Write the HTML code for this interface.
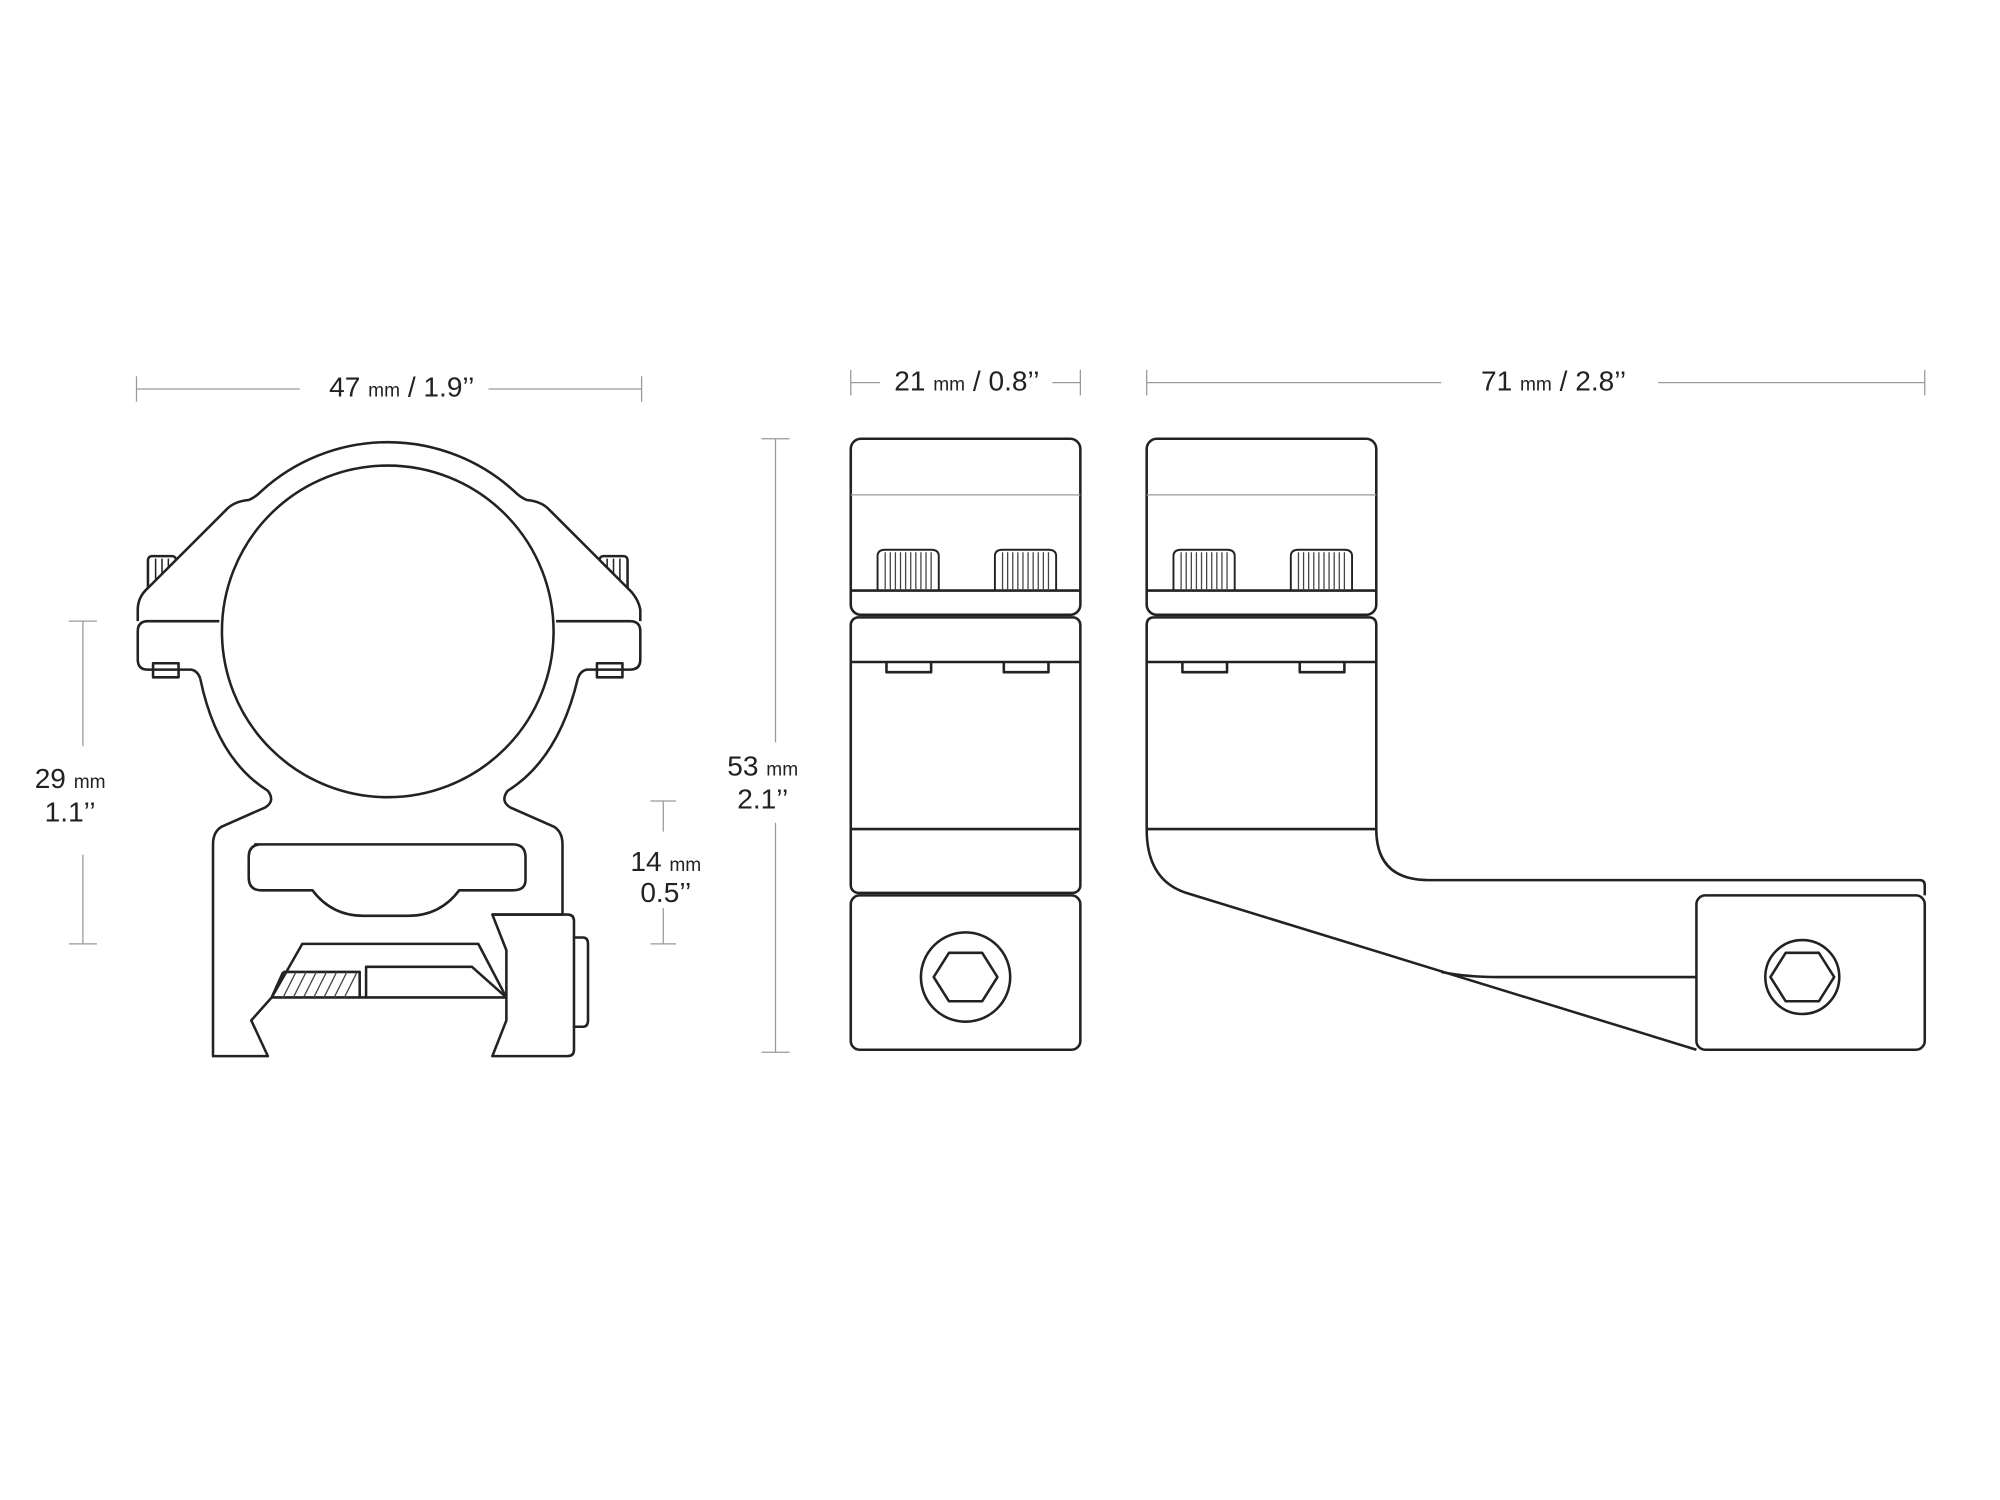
<!DOCTYPE html>
<html><head><meta charset="utf-8"><style>
html,body{margin:0;padding:0;background:#fff;}
svg{display:block;}
text{font-family:"Liberation Sans",sans-serif;fill:#222;}
</style></head><body>
<svg width="2000" height="1500" viewBox="0 0 1568 1176" xmlns="http://www.w3.org/2000/svg">
<rect width="1568" height="1176" fill="#fff"/>
<g stroke="#999" stroke-width="1" fill="none">
<line x1="107" y1="305" x2="235" y2="305"/><line x1="383" y1="305" x2="503" y2="305"/>
<line x1="107" y1="295" x2="107" y2="315"/><line x1="503" y1="295" x2="503" y2="315"/>
<line x1="667" y1="300" x2="690" y2="300"/><line x1="825" y1="300" x2="847" y2="300"/>
<line x1="667" y1="290" x2="667" y2="310"/><line x1="847" y1="290" x2="847" y2="310"/>
<line x1="899" y1="300" x2="1130" y2="300"/><line x1="1300" y1="300" x2="1509" y2="300"/>
<line x1="899" y1="290" x2="899" y2="310"/><line x1="1509" y1="290" x2="1509" y2="310"/>
<line x1="608" y1="344" x2="608" y2="582"/><line x1="608" y1="645" x2="608" y2="825"/>
<line x1="597" y1="344" x2="619" y2="344"/><line x1="597" y1="825" x2="619" y2="825"/>
<line x1="65" y1="487" x2="65" y2="585"/><line x1="65" y1="670" x2="65" y2="740"/>
<line x1="54" y1="487" x2="76" y2="487"/><line x1="54" y1="740" x2="76" y2="740"/>
<line x1="520" y1="628" x2="520" y2="652"/><line x1="520" y1="712" x2="520" y2="740"/>
<line x1="510" y1="628" x2="530" y2="628"/><line x1="510" y1="740" x2="530" y2="740"/>
<line x1="304" y1="372" x2="304" y2="455"/><line x1="304" y1="530" x2="304" y2="618"/>
<line x1="292" y1="372" x2="316" y2="372"/><line x1="292" y1="618" x2="316" y2="618"/>
</g>
<g font-size="22">
<text x="315" y="311" text-anchor="middle">47 <tspan font-size="15">mm</tspan> / 1.9’’</text>
<text x="758" y="306" text-anchor="middle">21 <tspan font-size="15">mm</tspan> / 0.8’’</text>
<text x="1218" y="306" text-anchor="middle">71 <tspan font-size="15">mm</tspan> / 2.8’’</text>
<text x="598" y="608" text-anchor="middle">53 <tspan font-size="15">mm</tspan></text>
<text x="598" y="634" text-anchor="middle">2.1’’</text>
<text x="55" y="618" text-anchor="middle">29 <tspan font-size="15">mm</tspan></text>
<text x="55" y="644" text-anchor="middle">1.1’’</text>
<text x="522" y="683" text-anchor="middle">14 <tspan font-size="15">mm</tspan></text>
<text x="522" y="707" text-anchor="middle">0.5’’</text>
<text x="304" y="487" text-anchor="middle">ø</text>
<text x="304" y="512" text-anchor="middle">30 <tspan font-size="15">mm</tspan> / 1.2’’</text>
</g>
<g stroke="#222" stroke-width="2" fill="#fff" stroke-linejoin="round">
<!-- knurl stubs behind shoulders -->
<rect x="116" y="436" width="22" height="30" rx="3"/>
<rect x="470" y="436" width="22" height="30" rx="3"/>
<rect x="120" y="520" width="20" height="11"/>
<rect x="468" y="520" width="20" height="11"/>
</g>
<g stroke="#222" stroke-width="1.2"><path d="M122,438V464M127,438V464M132,438V464M476,438V464M481,438V464M486,438V464"/></g>
<g stroke="#222" stroke-width="2" fill="none" stroke-linejoin="round">
<path d="M108,487 L108,478 Q108,468 116,461 L178,399 Q184,393 195,392 Q200,390 205,385 A147,147 0 0 1 403,385 Q408,390 413,392 Q424,393 430,399 L492,461 Q500,468 502,478 L502,487" fill="#fff"/>
<circle cx="304" cy="495" r="130" fill="#fff"/>
<path d="M172,487 L116,487 Q108,487 108,495 L108,517 Q108,525 116,525 L150,525 Q155,526 157,532"/>
<path d="M436,487 L494,487 Q502,487 502,495 L502,517 Q502,525 494,525 L460,525 Q455,526 453,532"/>
<path d="M157,532 Q170,595 210,620 Q216,628 208,633 L174,648 Q167,652 167,662 L167,828 L210,828 L197,800 L213,782 L237,740 L375,740 L397,782 L397,745 L386,717 L441,717 L441,662 Q441,652 434,648 L400,633 Q392,628 398,620 Q438,595 453,532"/>
<path d="M386,717 L445,717 Q450,717 450,722 L450,823 Q450,828 445,828 L386,828 L397,800 L397,782"/>
<path d="M200,662 L402,662 Q412,662 412,672 L412,690 Q412,698 402,698 L360,698 Q345,718 320,718 L285,718 Q260,718 245,698 L205,698 Q195,698 195,688 L195,672 Q195,662 205,662 Z"/>
<path d="M450,735 L457,735 Q461,735 461,740 L461,800 Q461,805 457,805 L450,805"/>
<path d="M213,782 L397,782"/>
<path d="M222,762 L282,762 L282,782 M287,782 L287,758 L370,758 L397,782"/>
<path d="M222,762 L213,782"/>
<!-- middle -->
<rect x="667" y="344" width="180" height="138" rx="8"/>
<line x1="667" y1="463" x2="847" y2="463"/>
<rect x="667" y="484" width="180" height="216" rx="6"/>
<line x1="667" y1="519" x2="847" y2="519"/>
<line x1="667" y1="650" x2="847" y2="650"/>
<path d="M695,519 L695,527 L730,527 L730,519 M787,519 L787,527 L822,527 L822,519"/>
<rect x="667" y="702" width="180" height="121" rx="7"/>
<circle cx="757" cy="766" r="35"/>
<polygon points="744,747 770,747 782,766 770,785 744,785 732,766"/>
<!-- right -->
<rect x="899" y="344" width="180" height="138" rx="8"/>
<line x1="899" y1="463" x2="1079" y2="463"/>
<path d="M899,650 L899,490 Q899,484 905,484 L1073,484 Q1079,484 1079,490 L1079,650 Q1079,690 1120,690 L1505,690 Q1509,690 1509,694 L1509,702"/>
<line x1="899" y1="519" x2="1079" y2="519"/>
<line x1="899" y1="650" x2="1079" y2="650"/>
<path d="M927,519 L927,527 L962,527 L962,519 M1019,519 L1019,527 L1054,527 L1054,519"/>
<path d="M899,650 Q899,690 930,700 L1330,823"/>
<path d="M1130,762 Q1150,766 1175,766 L1330,766"/>
<rect x="1330" y="702" width="179" height="121" rx="7"/>
<circle cx="1413" cy="766" r="29"/>
<polygon points="1400,747 1426,747 1438,766 1426,785 1400,785 1388,766"/>
</g>
<g stroke="#999" stroke-width="1"><line x1="667" y1="388" x2="847" y2="388"/><line x1="899" y1="388" x2="1079" y2="388"/></g>
<g stroke="#222" stroke-width="1.5" fill="none">
<path d="M688,463 L688,436 Q688,431 694,431 L730,431 Q736,431 736,436 L736,463"/>
<path d="M780,463 L780,436 Q780,431 786,431 L822,431 Q828,431 828,436 L828,463"/>
<path d="M920,463 L920,436 Q920,431 926,431 L962,431 Q968,431 968,436 L968,463"/>
<path d="M1012,463 L1012,436 Q1012,431 1018,431 L1054,431 Q1060,431 1060,436 L1060,463"/>
</g>
<g stroke="#444" stroke-width="1">
<path d="M694,433V463M698,433V463M702,433V463M706,433V463M710,433V463M714,433V463M718,433V463M722,433V463M726,433V463M730,433V463"/>
<path d="M786,433V463M790,433V463M794,433V463M798,433V463M802,433V463M806,433V463M810,433V463M814,433V463M818,433V463M822,433V463"/>
<path d="M926,433V463M930,433V463M934,433V463M938,433V463M942,433V463M946,433V463M950,433V463M954,433V463M958,433V463M962,433V463"/>
<path d="M1018,433V463M1022,433V463M1026,433V463M1030,433V463M1034,433V463M1038,433V463M1042,433V463M1046,433V463M1050,433V463M1054,433V463"/>
<path d="M222,782L232,762M230,782L240,762M238,782L248,762M246,782L256,762M254,782L264,762M262,782L272,762M270,782L280,762"/>
</g>
</svg>
</body></html>
